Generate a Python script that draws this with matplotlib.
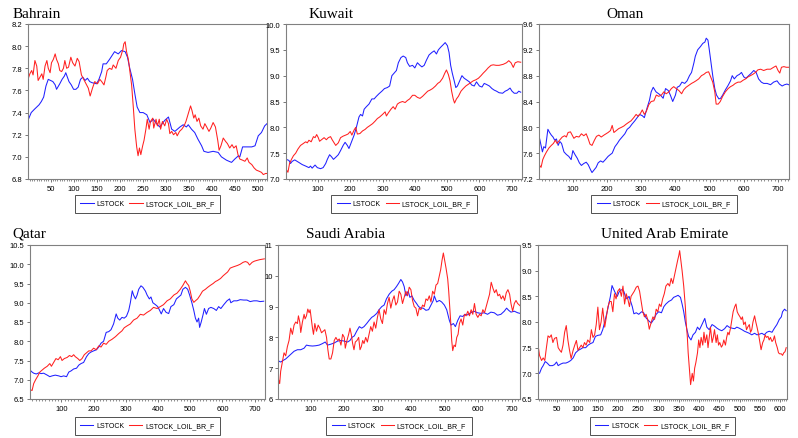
import matplotlib
matplotlib.use("Agg")
import matplotlib.pyplot as plt
from matplotlib.ticker import MultipleLocator, FormatStrFormatter

W, H = 798, 439

# ---- Bahrain ----
bah_obs_stock = [1, 8, 15, 25, 30, 35, 40, 45, 55, 60, 63, 70, 75, 80, 83, 90, 95, 100, 105, 110,
                 115, 120, 125, 130, 135, 140, 150, 155, 161, 164, 171, 178, 189, 197, 204, 212,
                 217, 222, 228, 233, 238, 244, 251, 259, 266, 273, 280, 287, 298, 306, 313, 320,
                 331, 338, 345, 349, 356, 363, 370, 378, 383, 392, 403, 414, 421, 432, 443, 450,
                 458, 461, 467, 476, 487, 494, 501, 508, 515, 520]
bah_stock = [7.33, 7.40, 7.43, 7.47, 7.50, 7.54, 7.64, 7.70, 7.68, 7.65, 7.61, 7.66, 7.70, 7.73,
             7.76, 7.68, 7.65, 7.61, 7.61, 7.63, 7.70, 7.72, 7.69, 7.71, 7.68, 7.67, 7.66, 7.70,
             7.77, 7.84, 7.84, 7.88, 7.95, 7.93, 7.96, 7.95, 7.90, 7.80, 7.70, 7.57, 7.45, 7.40,
             7.40, 7.38, 7.31, 7.34, 7.30, 7.27, 7.33, 7.36, 7.25, 7.23, 7.27, 7.29, 7.27, 7.29,
             7.25, 7.22, 7.16, 7.10, 7.05, 7.04, 7.05, 7.04, 7.00, 6.97, 6.95, 6.98, 7.01, 7.00,
             7.09, 7.09, 7.09, 7.10, 7.19, 7.22, 7.28, 7.30]
bah_obs_oil = [1, 5, 9, 12, 16, 20, 23, 27, 31, 34, 38, 42, 45, 49, 52, 56, 60, 63, 67, 70, 74,
               78, 81, 85, 89, 94, 98, 103, 108, 112, 117, 122, 127, 132, 136, 141, 146, 152, 157,
               161, 166, 170, 173, 178, 183, 186, 192, 197, 202, 207, 209, 212, 215, 219, 222, 226,
               230, 233, 237, 240, 243, 246, 250, 253, 257, 260, 264, 267, 272, 274, 279, 282, 286,
               289, 293, 298, 302, 306, 309, 313, 317, 322, 325, 330, 335, 340, 344, 349, 354, 357,
               361, 364, 368, 372, 376, 381, 385, 389, 394, 398, 403, 408, 413, 416, 420, 425, 430,
               434, 439, 444, 448, 453, 457, 461, 467, 472, 477, 481, 487, 492, 497, 503, 508, 512,
               517, 520]
bah_oil = [7.70, 7.75, 7.78, 7.74, 7.87, 7.82, 7.69, 7.72, 7.75, 7.70, 7.82, 7.87, 7.80, 7.76,
           7.85, 7.88, 7.93, 7.88, 7.84, 7.78, 7.77, 7.80, 7.87, 7.80, 7.81, 7.90, 7.85, 7.82,
           7.89, 7.86, 7.74, 7.70, 7.66, 7.62, 7.55, 7.62, 7.68, 7.66, 7.70, 7.68, 7.65, 7.72,
           7.78, 7.80, 7.79, 7.83, 7.80, 7.87, 7.90, 7.97, 8.02, 8.04, 7.95, 7.88, 7.78, 7.65,
           7.43, 7.25, 7.09, 7.01, 7.08, 7.02, 7.10, 7.15, 7.25, 7.34, 7.25, 7.32, 7.35, 7.26,
           7.34, 7.28, 7.34, 7.25, 7.32, 7.28, 7.34, 7.30, 7.21, 7.23, 7.20, 7.22, 7.19, 7.23,
           7.25, 7.28, 7.32, 7.39, 7.46, 7.42, 7.35, 7.38, 7.32, 7.35, 7.28, 7.25, 7.30, 7.27,
           7.23, 7.26, 7.31, 7.27, 7.15, 7.06, 7.10, 7.17, 7.14, 7.12, 7.08, 7.11, 7.08, 7.10,
           7.02, 6.98, 6.97, 6.96, 6.99, 6.95, 6.93, 6.90, 6.88, 6.87, 6.86, 6.84, 6.85, 6.85]

# ---- Kuwait ----
kuw_obs_stock = [2, 10, 15, 20, 28, 41, 51, 62, 72, 77, 82, 91, 98, 108, 116, 124, 129, 136, 142,
                 148, 155, 163, 170, 178, 184, 191, 196, 204, 212, 219, 227, 232, 238, 243, 250,
                 258, 267, 274, 281, 289, 298, 306, 315, 322, 329, 336, 343, 349, 357, 364, 372,
                 377, 384, 393, 400, 408, 416, 422, 429, 436, 444, 453, 460, 467, 473, 480, 488,
                 494, 501, 506, 511, 516, 522, 527, 532, 539, 546, 553, 560, 569, 576, 584, 591,
                 600, 608, 615, 622, 631, 639, 646, 653, 661, 672, 680, 687, 695, 701, 708, 716,
                 722, 728]
kuw_stock = [7.38, 7.36, 7.30, 7.34, 7.37, 7.32, 7.28, 7.25, 7.22, 7.25, 7.21, 7.27, 7.22, 7.20,
             7.22, 7.30, 7.38, 7.47, 7.43, 7.38, 7.42, 7.47, 7.55, 7.65, 7.71, 7.65, 7.59, 7.72,
             7.85, 8.00, 8.20, 8.25, 8.22, 8.35, 8.40, 8.45, 8.55, 8.55, 8.60, 8.65, 8.70, 8.75,
             8.77, 8.80, 9.00, 9.05, 9.10, 9.25, 9.35, 9.38, 9.35, 9.25, 9.18, 9.20, 9.15, 9.25,
             9.20, 9.17, 9.20, 9.30, 9.40, 9.45, 9.48, 9.42, 9.50, 9.55, 9.60, 9.64, 9.58, 9.45,
             9.20, 9.05, 8.90, 8.77, 8.80, 8.90, 9.00, 8.95, 8.92, 8.88, 8.82, 8.80, 8.88, 8.80,
             8.78, 8.85, 8.83, 8.80, 8.75, 8.72, 8.70, 8.67, 8.66, 8.70, 8.72, 8.76, 8.70, 8.66,
             8.66, 8.70, 8.68]
kuw_obs_oil = [2, 7, 12, 18, 24, 31, 38, 46, 53, 62, 67, 72, 79, 86, 91, 96, 101, 105, 111, 119,
               126, 132, 139, 144, 150, 155, 163, 170, 178, 186, 193, 200, 205, 212, 217, 222, 230,
               238, 246, 253, 260, 269, 277, 284, 291, 300, 308, 312, 318, 326, 333, 339, 346, 353,
               362, 370, 377, 384, 393, 400, 408, 416, 424, 432, 440, 447, 455, 464, 471, 478, 486,
               493, 498, 504, 509, 514, 519, 523, 529, 535, 543, 550, 558, 565, 574, 581, 589, 597,
               605, 612, 620, 627, 636, 643, 652, 661, 674, 684, 691, 698, 705, 711, 719, 728]
kuw_oil = [7.18, 7.13, 7.30, 7.38, 7.45, 7.50, 7.58, 7.65, 7.68, 7.72, 7.70, 7.75, 7.72, 7.82,
           7.80, 7.86, 7.80, 7.73, 7.76, 7.80, 7.76, 7.80, 7.82, 7.76, 7.70, 7.65, 7.70, 7.80,
           7.83, 7.85, 7.87, 7.92, 7.85, 7.95, 8.00, 7.87, 7.88, 7.93, 7.96, 8.00, 8.03, 8.07,
           8.12, 8.17, 8.20, 8.25, 8.30, 8.22, 8.28, 8.35, 8.40, 8.35, 8.45, 8.48, 8.50, 8.48,
           8.52, 8.55, 8.62, 8.62, 8.58, 8.56, 8.60, 8.65, 8.70, 8.72, 8.75, 8.80, 8.85, 8.88,
           8.95, 9.05, 9.11, 9.02, 8.90, 8.70, 8.55, 8.47, 8.55, 8.60, 8.70, 8.75, 8.80, 8.83,
           8.87, 8.90, 8.92, 8.95, 9.00, 9.05, 9.10, 9.15, 9.20, 9.21, 9.20, 9.20, 9.22, 9.25,
           9.29, 9.25, 9.16, 9.25, 9.27, 9.26]

# ---- Oman ----
oma_obs_stock = [3, 7, 11, 15, 20, 27, 32, 37, 42, 47, 52, 57, 62, 67, 74, 81, 88, 95, 100, 106,
                 113, 119, 125, 132, 139, 145, 152, 156, 162, 168, 174, 181, 188, 195, 203, 210,
                 215, 223, 230, 236, 244, 252, 259, 266, 273, 281, 288, 295, 303, 309, 317, 324,
                 329, 335, 343, 356, 364, 371, 379, 385, 392, 400, 405, 412, 419, 427, 434, 441,
                 447, 454, 458, 465, 473, 480, 486, 490, 495, 499, 504, 509, 515, 520, 527, 532,
                 538, 546, 554, 561, 566, 572, 580, 587, 593, 600, 606, 614, 622, 629, 636, 643,
                 651, 658, 668, 678, 687, 697, 704, 712, 719, 726, 731]
oma_stock = [7.82, 7.72, 7.62, 7.70, 7.68, 7.97, 7.92, 7.88, 7.85, 7.80, 7.82, 7.72, 7.78, 7.75,
             7.62, 7.58, 7.55, 7.50, 7.64, 7.58, 7.52, 7.45, 7.41, 7.44, 7.46, 7.42, 7.34, 7.30,
             7.34, 7.38, 7.45, 7.48, 7.46, 7.50, 7.55, 7.58, 7.60, 7.70, 7.75, 7.80, 7.85, 7.90,
             7.97, 8.00, 8.05, 8.10, 8.15, 8.20, 8.18, 8.15, 8.30, 8.42, 8.55, 8.62, 8.55, 8.50,
             8.45, 8.60, 8.57, 8.50, 8.40, 8.50, 8.62, 8.64, 8.70, 8.68, 8.72, 8.80, 8.85, 9.00,
             9.10, 9.20, 9.25, 9.30, 9.32, 9.38, 9.35, 9.20, 9.00, 8.80, 8.60, 8.50, 8.44, 8.45,
             8.50, 8.58, 8.65, 8.72, 8.80, 8.75, 8.80, 8.82, 8.85, 8.78, 8.76, 8.80, 8.84, 8.88,
             8.85, 8.75, 8.70, 8.68, 8.68, 8.66, 8.70, 8.72, 8.67, 8.64, 8.66, 8.67, 8.66]
oma_obs_oil = [3, 7, 12, 17, 23, 30, 37, 43, 49, 54, 61, 69, 76, 81, 86, 93, 98, 103, 110, 118,
               125, 132, 139, 145, 150, 156, 163, 169, 176, 183, 191, 197, 203, 210, 215, 220, 227,
               234, 242, 249, 256, 264, 270, 278, 285, 291, 298, 303, 309, 315, 322, 329, 337, 344,
               351, 359, 366, 373, 381, 388, 395, 402, 410, 418, 424, 431, 439, 447, 454, 460, 468,
               476, 483, 490, 497, 503, 509, 515, 519, 525, 531, 538, 546, 554, 561, 568, 575, 583,
               590, 598, 605, 612, 619, 626, 634, 641, 649, 658, 668, 678, 687, 694, 700, 705, 710,
               717, 724, 731]
oma_oil = [7.41, 7.38, 7.50, 7.56, 7.62, 7.68, 7.72, 7.75, 7.80, 7.75, 7.80, 7.85, 7.87, 7.85,
           7.92, 7.93, 7.88, 7.83, 7.86, 7.85, 7.90, 7.87, 7.90, 7.82, 7.74, 7.72, 7.80, 7.86,
           7.88, 7.85, 7.88, 7.90, 7.92, 7.95, 8.03, 7.92, 7.95, 7.98, 8.00, 8.02, 8.05, 8.08,
           8.10, 8.15, 8.20, 8.17, 8.22, 8.27, 8.20, 8.25, 8.35, 8.40, 8.41, 8.50, 8.48, 8.50,
           8.55, 8.52, 8.55, 8.60, 8.63, 8.60, 8.57, 8.52, 8.58, 8.62, 8.65, 8.68, 8.70, 8.72,
           8.75, 8.80, 8.82, 8.85, 8.86, 8.78, 8.70, 8.55, 8.36, 8.36, 8.40, 8.48, 8.55, 8.60,
           8.63, 8.65, 8.68, 8.70, 8.70, 8.73, 8.75, 8.78, 8.80, 8.82, 8.85, 8.89, 8.90, 8.88,
           8.90, 8.90, 8.93, 8.95, 8.88, 8.84, 8.93, 8.94, 8.93, 8.93]

# ---- Qatar ----
qat_obs_stock = [4, 9, 14, 22, 30, 37, 45, 56, 64, 71, 81, 92, 99, 107, 116, 123, 130, 138, 147,
                 154, 161, 169, 178, 185, 192, 200, 209, 216, 223, 231, 239, 247, 254, 262, 270,
                 275, 281, 288, 295, 302, 309, 314, 320, 324, 330, 335, 340, 347, 353, 361, 366,
                 373, 378, 384, 392, 399, 405, 410, 417, 425, 433, 440, 449, 457, 464, 471, 477,
                 485, 492, 498, 505, 511, 516, 521, 526, 529, 534, 540, 544, 550, 557, 564, 573,
                 581, 588, 595, 604, 614, 622, 626, 635, 645, 655, 666, 676, 686, 697, 707, 717, 728]
qat_stock = [7.24, 7.20, 7.17, 7.15, 7.18, 7.16, 7.17, 7.12, 7.08, 7.10, 7.12, 7.10, 7.08, 7.10,
             7.08, 7.20, 7.23, 7.28, 7.30, 7.38, 7.42, 7.45, 7.60, 7.68, 7.72, 7.75, 7.78, 7.85,
             7.95, 8.00, 8.23, 8.25, 8.30, 8.45, 8.71, 8.60, 8.55, 8.62, 8.60, 8.65, 8.80, 9.00,
             9.31, 9.20, 9.10, 9.20, 9.35, 9.44, 9.40, 9.30, 9.20, 9.10, 9.15, 9.00, 8.95, 8.90,
             8.80, 8.71, 8.85, 8.75, 8.72, 8.90, 8.95, 9.10, 9.15, 9.20, 9.35, 9.40, 9.35, 9.20,
             9.00, 8.80, 8.60, 8.50, 8.60, 8.36, 8.50, 8.70, 8.85, 8.70, 8.85, 8.88, 8.85, 8.80,
             8.90, 8.85, 8.95, 9.05, 9.10, 9.00, 9.05, 9.05, 9.08, 9.07, 9.07, 9.03, 9.05, 9.05,
             9.03, 9.04]
qat_obs_oil = [4, 9, 14, 20, 27, 33, 40, 47, 56, 64, 69, 76, 83, 90, 97, 102, 109, 118, 125, 132,
               138, 143, 151, 157, 164, 171, 178, 185, 192, 200, 208, 216, 223, 231, 239, 247, 257,
               268, 278, 288, 295, 304, 314, 324, 335, 345, 355, 366, 376, 386, 397, 407, 417, 428,
               438, 449, 459, 469, 477, 485, 490, 495, 500, 505, 511, 516, 523, 531, 538, 547, 554,
               562, 571, 578, 585, 594, 602, 609, 616, 624, 633, 640, 647, 655, 664, 671, 678, 684,
               692, 699, 707, 716, 723, 730]
qat_oil = [6.74, 6.72, 6.90, 7.00, 7.10, 7.20, 7.25, 7.30, 7.35, 7.42, 7.35, 7.45, 7.55, 7.52,
           7.60, 7.50, 7.55, 7.58, 7.63, 7.60, 7.65, 7.60, 7.55, 7.50, 7.55, 7.65, 7.70, 7.75,
           7.75, 7.82, 7.78, 7.88, 7.85, 7.95, 7.92, 8.00, 8.05, 8.12, 8.20, 8.27, 8.35, 8.40,
           8.45, 8.55, 8.60, 8.70, 8.68, 8.75, 8.80, 8.88, 8.85, 8.90, 8.95, 9.05, 9.10, 9.20,
           9.25, 9.35, 9.45, 9.57, 9.50, 9.45, 9.30, 9.10, 9.01, 9.05, 9.10, 9.20, 9.30, 9.35,
           9.40, 9.45, 9.50, 9.55, 9.58, 9.63, 9.70, 9.75, 9.80, 9.90, 9.93, 9.95, 9.97, 10.00,
           10.05, 10.07, 10.05, 9.98, 10.05, 10.08, 10.10, 10.12, 10.13, 10.14]

# ---- Saudi Arabia ----
sau_obs_stock = [3, 10, 17, 25, 33, 40, 50, 60, 70, 80, 87, 95, 105, 115, 125, 135, 143, 150, 160,
                 170, 180, 190, 200, 210, 217, 223, 230, 237, 245, 252, 259, 267, 274, 282, 289,
                 297, 304, 312, 319, 326, 334, 342, 349, 356, 362, 369, 374, 379, 384, 391, 396,
                 402, 409, 416, 422, 429, 436, 444, 452, 459, 466, 469, 476, 484, 491, 499, 506,
                 514, 519, 526, 532, 539, 546, 554, 561, 568, 578, 588, 598, 608, 618, 628, 638,
                 648, 658, 668, 678, 685, 691, 698, 708, 718, 725]
sau_stock = [7.24, 7.20, 7.25, 7.30, 7.38, 7.45, 7.55, 7.60, 7.60, 7.65, 7.75, 7.73, 7.72, 7.73,
             7.75, 7.80, 7.85, 7.75, 7.78, 7.82, 7.88, 7.90, 7.88, 7.85, 7.90, 8.00, 8.05, 8.20,
             8.35, 8.30, 8.35, 8.45, 8.55, 8.65, 8.70, 8.78, 8.90, 9.00, 9.05, 9.25, 9.40, 9.50,
             9.55, 9.65, 9.75, 9.88, 9.80, 9.65, 9.35, 9.50, 9.30, 9.35, 9.20, 9.10, 9.00, 8.95,
             8.95, 8.88, 8.90, 9.05, 9.20, 9.35, 9.15, 9.20, 9.15, 9.05, 8.90, 8.55, 8.40, 8.45,
             8.35, 8.55, 8.70, 8.68, 8.75, 8.73, 8.80, 8.85, 8.80, 8.78, 8.80, 8.75, 8.82, 8.80,
             8.72, 8.75, 8.85, 8.95, 8.88, 8.82, 8.85, 8.80, 8.78]
sau_obs_oil = [3, 7, 10, 15, 20, 25, 30, 35, 40, 45, 50, 55, 60, 63, 67, 70, 75, 80, 83, 87, 91,
               95, 98, 102, 105, 108, 112, 117, 122, 127, 132, 137, 142, 147, 151, 155, 160, 165,
               170, 175, 180, 185, 190, 195, 200, 203, 208, 213, 217, 221, 225, 229, 233, 238, 243,
               247, 251, 255, 259, 264, 269, 274, 279, 284, 289, 294, 299, 304, 309, 314, 319, 324,
               329, 334, 339, 344, 349, 354, 359, 364, 369, 374, 379, 384, 389, 394, 399, 404, 409,
               414, 419, 424, 429, 434, 439, 444, 449, 454, 459, 464, 469, 474, 479, 484, 488, 492,
               496, 500, 504, 509, 512, 515, 518, 521, 524, 528, 532, 536, 540, 544, 549, 554, 559,
               564, 569, 574, 579, 584, 589, 594, 599, 604, 609, 614, 619, 624, 629, 634, 639, 644,
               649, 654, 659, 664, 669, 674, 679, 684, 689, 694, 698, 703, 708, 713, 718, 723, 726]
sau_oil = [6.65, 6.50, 6.90, 7.20, 7.50, 7.40, 7.70, 7.90, 8.30, 8.10, 8.40, 8.50, 8.45, 8.70,
           8.50, 8.16, 8.50, 8.75, 8.60, 8.70, 8.92, 8.80, 8.90, 8.55, 8.30, 8.10, 8.45, 8.20,
           8.40, 8.30, 8.15, 8.20, 8.25, 8.00, 7.60, 7.30, 7.30, 7.50, 7.90, 8.00, 7.90, 7.95,
           7.75, 8.10, 8.00, 7.65, 7.90, 8.10, 8.30, 8.10, 7.80, 7.60, 7.85, 7.90, 8.00, 7.60,
           7.70, 7.90, 7.80, 8.00, 7.85, 8.10, 8.35, 8.20, 8.50, 8.30, 8.65, 8.90, 8.60, 8.45,
           8.90, 8.75, 9.10, 9.30, 8.95, 9.20, 9.35, 9.05, 9.15, 9.50, 9.40, 9.10, 9.30, 9.50,
           9.35, 9.63, 9.55, 9.20, 9.00, 8.95, 8.70, 8.95, 8.90, 9.05, 9.00, 9.25, 9.20, 9.35,
           9.15, 9.50, 9.40, 9.70, 9.75, 10.00, 10.20, 10.50, 10.74, 10.50, 10.25, 9.90, 9.50,
           9.00, 8.50, 7.90, 7.57, 7.75, 7.70, 8.00, 8.10, 8.45, 8.60, 8.40, 8.75, 8.70, 8.85,
           8.70, 8.90, 8.75, 9.10, 8.75, 8.65, 8.75, 8.70, 8.90, 8.80, 9.00, 9.20, 9.40, 9.79,
           9.60, 9.45, 9.55, 9.35, 9.40, 9.25, 9.35, 9.20, 9.45, 9.55, 9.40, 9.10, 8.85, 9.10,
           9.20, 9.10, 9.05, 9.02]

# ---- United Arab Emirate ----
uae_obs_stock = [2, 6, 11, 15, 20, 25, 31, 38, 43, 48, 52, 58, 64, 71, 77, 83, 89, 95, 102, 107,
                 113, 120, 126, 132, 138, 144, 150, 157, 162, 167, 173, 177, 181, 185, 190, 194,
                 198, 202, 206, 210, 214, 218, 222, 227, 231, 235, 239, 245, 251, 258, 263, 269,
                 276, 282, 288, 294, 300, 307, 313, 318, 325, 332, 337, 343, 348, 354, 358, 362,
                 366, 370, 374, 380, 385, 391, 396, 401, 407, 414, 419, 425, 432, 438, 444, 450,
                 456, 463, 469, 474, 481, 488, 493, 499, 506, 512, 518, 524, 530, 537, 543, 548,
                 555, 561, 567, 573, 580, 586, 592, 598, 603, 606, 611, 615]
uae_stock = [7.00, 7.00, 7.10, 7.15, 7.23, 7.20, 7.15, 7.15, 7.17, 7.22, 7.15, 7.18, 7.20, 7.20,
             7.22, 7.25, 7.30, 7.40, 7.45, 7.47, 7.50, 7.50, 7.55, 7.58, 7.60, 7.72, 7.74, 7.75,
             7.85, 8.00, 8.20, 8.35, 8.50, 8.71, 8.62, 8.55, 8.50, 8.58, 8.62, 8.63, 8.60, 8.50,
             8.45, 8.50, 8.40, 8.30, 8.16, 8.18, 8.15, 8.20, 8.18, 8.08, 8.02, 7.98, 8.05, 8.15,
             8.20, 8.18, 8.30, 8.35, 8.40, 8.43, 8.48, 8.50, 8.52, 8.48, 8.35, 8.20, 8.00, 7.85,
             7.72, 7.65, 7.75, 7.80, 7.90, 7.85, 7.95, 8.07, 7.90, 7.85, 7.95, 7.92, 7.88, 7.85,
             7.83, 7.87, 7.93, 7.90, 7.88, 7.87, 7.90, 7.88, 7.85, 7.82, 7.80, 7.78, 7.75, 7.78,
             7.75, 7.76, 7.78, 7.75, 7.80, 7.82, 7.80, 7.88, 7.95, 8.05, 8.10, 8.20, 8.25, 8.22]
uae_obs_oil = [2, 6, 11, 15, 19, 23, 27, 31, 35, 39, 43, 48, 52, 56, 60, 64, 68, 72, 76, 80, 84,
               89, 93, 97, 101, 105, 109, 113, 117, 121, 125, 130, 134, 138, 142, 146, 150, 154,
               158, 162, 167, 171, 175, 179, 183, 187, 191, 195, 199, 204, 208, 212, 216, 220, 224,
               228, 232, 236, 240, 245, 249, 253, 257, 261, 265, 269, 273, 277, 282, 286, 290, 294,
               298, 302, 306, 310, 314, 318, 323, 327, 331, 335, 339, 343, 347, 350, 352, 355, 358,
               362, 366, 368, 371, 373, 376, 379, 383, 386, 389, 392, 396, 399, 402, 405, 409, 412,
               415, 419, 422, 425, 428, 432, 435, 438, 442, 445, 448, 451, 455, 458, 461, 465, 468,
               471, 474, 478, 481, 484, 488, 491, 494, 497, 501, 504, 507, 510, 514, 517, 520, 524,
               527, 530, 533, 537, 540, 543, 547, 550, 553, 557, 560, 563, 566, 570, 573, 576, 580,
               583, 586, 589, 593, 596, 599, 603, 606, 609, 612, 615]
uae_oil = [7.57, 7.35, 7.25, 7.30, 7.25, 7.50, 7.73, 7.70, 7.75, 7.60, 7.68, 7.70, 7.50, 7.45,
           7.41, 7.55, 7.80, 7.93, 7.65, 7.45, 7.29, 7.45, 7.55, 7.64, 7.45, 7.50, 7.55, 7.50,
           7.60, 7.55, 7.65, 7.60, 7.85, 7.70, 7.75, 7.95, 8.29, 7.85, 8.00, 8.27, 7.90, 8.10,
           8.30, 8.40, 8.40, 8.20, 8.55, 8.45, 8.60, 8.65, 8.50, 8.70, 8.35, 8.55, 8.45, 8.30,
           8.50, 8.55, 8.60, 8.68, 8.70, 8.60, 8.40, 8.20, 8.10, 8.15, 8.05, 7.86, 8.00, 8.10,
           8.05, 8.25, 8.20, 8.35, 8.30, 8.45, 8.55, 8.70, 8.75, 8.70, 8.85, 8.75, 8.90, 9.05,
           9.20, 9.30, 9.39, 9.20, 9.00, 8.70, 8.30, 8.00, 7.70, 7.40, 7.10, 6.78, 7.00, 6.85,
           7.10, 7.21, 7.40, 7.65, 7.50, 7.70, 7.55, 7.80, 7.60, 7.75, 7.50, 7.70, 7.90, 7.60,
           7.70, 7.85, 7.60, 7.75, 7.55, 7.60, 7.51, 7.55, 7.65, 7.55, 7.70, 7.80, 7.75, 7.90,
           8.05, 8.20, 8.30, 8.35, 8.20, 8.15, 8.10, 8.05, 8.10, 7.95, 8.00, 7.85, 7.90, 7.95,
           7.80, 7.85, 8.00, 8.12, 8.00, 7.90, 7.75, 7.60, 7.46, 7.60, 7.65, 7.75, 7.70, 7.72,
           7.65, 7.70, 7.62, 7.65, 7.73, 7.60, 7.50, 7.40, 7.38, 7.38, 7.35, 7.40, 7.42, 7.50]

LABEL_FONT = "Liberation Sans"
TITLE_FONT = "Liberation Serif"


def px_rect(left, right, top, bottom):
    """Convert a pixel box (origin top-left) into figure fractions."""
    return [left / W, 1 - bottom / H, (right - left) / W, (bottom - top) / H]


def draw_panel(fig, box, title, title_pos, obs_a, vals_a, obs_b, vals_b,
               xlim, xstep, xminor, ylim, ystep, yfmt, legend_y):
    """Draw one country panel with its title and legend."""
    ax = fig.add_axes(px_rect(*box))
    ax.plot(obs_a, vals_a, color="#2020ff", lw=0.75, label="LSTOCK")
    ax.plot(obs_b, vals_b, color="#ff2020", lw=0.75, label="LSTOCK_LOIL_BR_F")
    ax.set_xlim(*xlim)
    ax.set_ylim(*ylim)
    ax.xaxis.set_major_locator(MultipleLocator(xstep))
    ax.xaxis.set_minor_locator(MultipleLocator(xminor))
    ax.yaxis.set_major_locator(MultipleLocator(ystep))
    ax.yaxis.set_major_formatter(FormatStrFormatter(yfmt))
    for side in ax.spines.values():
        side.set_color("#808080")
        side.set_linewidth(0.8)
    ax.tick_params(which="major", direction="out", length=2.5, width=0.6,
                   color="#606060", pad=1.5, labelsize=5.5)
    ax.tick_params(which="minor", direction="out", length=1.5, width=0.5,
                   color="#606060")
    ax.tick_params(axis="y", which="minor", length=0)
    for lab in ax.get_xticklabels() + ax.get_yticklabels():
        lab.set_fontfamily(LABEL_FONT)

    tx, ty, ha = title_pos
    fig.text(tx / W, 1 - ty / H, title, ha=ha, va="baseline",
             fontsize=11, fontfamily=TITLE_FONT)

    cx = (box[0] + box[1]) / 2
    leg = ax.legend(loc="center", bbox_to_anchor=(cx / W, 1 - legend_y / H),
                    bbox_transform=fig.transFigure, ncol=2, frameon=True,
                    fancybox=False, edgecolor="#505050", framealpha=1,
                    prop={"family": LABEL_FONT, "size": 5.0},
                    handlelength=1.9, handletextpad=0.4, columnspacing=0.7,
                    borderpad=0.8, borderaxespad=0)
    leg.get_frame().set_linewidth(0.7)
    return ax


fig = plt.figure(figsize=(W / 100, H / 100), dpi=100)

draw_panel(fig, (28, 267, 25, 180), "Bahrain", (13, 18, "left"),
           bah_obs_stock, bah_stock, bah_obs_oil, bah_oil,
           (1, 520), 50, 5, (6.8, 8.2), 0.2, "%.1f", 205)
draw_panel(fig, (286, 522, 25, 180), "Kuwait", (331, 18, "center"),
           kuw_obs_stock, kuw_stock, kuw_obs_oil, kuw_oil,
           (1, 732), 100, 10, (7.0, 10.0), 0.5, "%.1f", 205)
draw_panel(fig, (539, 789, 25, 180), "Oman", (625, 18, "center"),
           oma_obs_stock, oma_stock, oma_obs_oil, oma_oil,
           (1, 732), 100, 10, (7.2, 9.6), 0.4, "%.1f", 205)
draw_panel(fig, (29.5, 265, 246, 400), "Qatar", (12, 238, "left"),
           qat_obs_stock, qat_stock, qat_obs_oil, qat_oil,
           (1, 732), 100, 10, (6.5, 10.5), 0.5, "%.1f", 427)
draw_panel(fig, (278, 520, 246, 400), "Saudi Arabia", (346, 238, "center"),
           sau_obs_stock, sau_stock, sau_obs_oil, sau_oil,
           (2, 725), 100, 10, (6, 11), 1, "%d", 427)
draw_panel(fig, (537.5, 787, 246, 400), "United Arab Emirate", (665, 238, "center"),
           uae_obs_stock, uae_stock, uae_obs_oil, uae_oil,
           (1, 617), 50, 5, (6.5, 9.5), 0.5, "%.1f", 427)

fig.savefig("out.png", dpi=100)
